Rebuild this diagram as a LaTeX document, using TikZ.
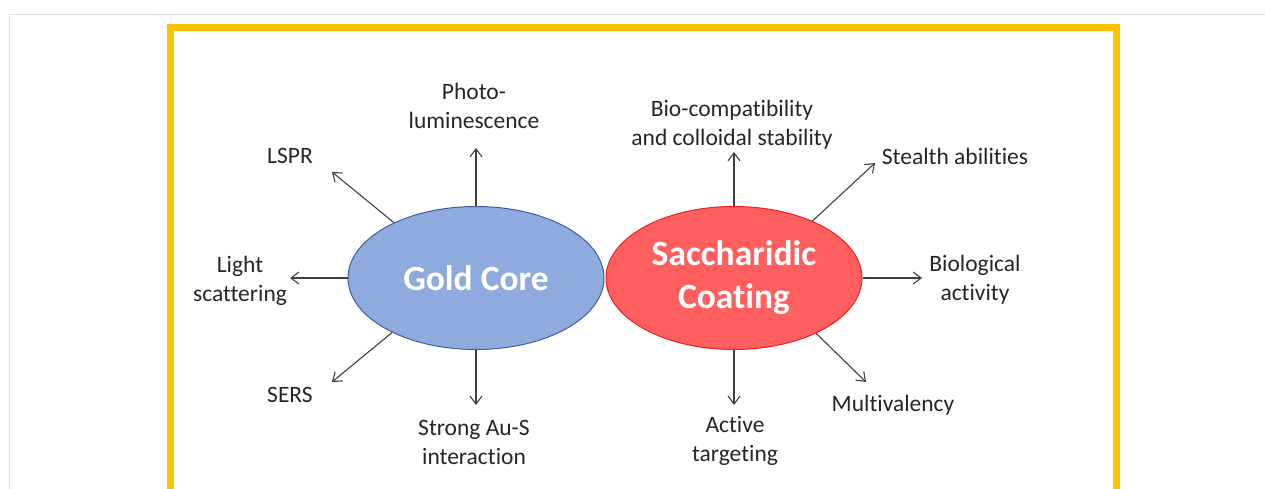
\documentclass[tikz,border=0pt]{standalone}
\usepackage{fontspec}
\setmainfont[Ligatures=NoCommon]{Carlito}
\usetikzlibrary{shapes.geometric,arrows.meta}

\definecolor{frameyellow}{HTML}{FFC000}
\definecolor{coreblue}{HTML}{8FAADC}
\definecolor{coreedge}{HTML}{3F5F9F}
\definecolor{coatred}{HTML}{FF5F5F}
\definecolor{coatedge}{HTML}{F01E1E}
\definecolor{labelgray}{HTML}{262626}

\tikzset{
  blob/.style={ellipse, draw, line width=1pt, inner sep=0pt, minimum width=256pt, minimum height=143pt,
    text=white, align=center, font=\fontsize{35.5}{43}\selectfont\bfseries},
  prop/.style={align=center, inner sep=0pt, text=labelgray, font=\fontsize{23.5}{29}\selectfont},
  arr/.style={->, line width=1.1pt, draw=black!75}
}

\begin{document}
\begin{tikzpicture}[x=1pt, y=-1pt, >={Straight Barb[length=8pt,width=12pt]}]
\useasboundingbox (0,0) rectangle (1265,489);
\clip (0,0) rectangle (1265,489);

% frames
\draw[gray!25, line width=1.2pt] (9.5,14.5) rectangle (1300,600);
\draw[frameyellow, line width=7pt] (170.5,27.5) rectangle (1116.5,600);

% the two halves of the particle
\node[blob, fill=coreblue, draw=coreedge] (gold) at (476,278) {Gold Core};
\node[blob, fill=coatred, draw=coatedge] (sacch) at (734,278) {Saccharidic\\Coating};

% gold core properties
\node[prop] (photo) at (474,106) {Photo-\\luminescence};
\node[prop] (lspr) at (290,156) {LSPR};
\node[prop] (light) at (240,281) {Light\\scattering};
\node[prop] (sers) at (290,395) {SERS};
\node[prop] (ausbond) at (474,442) {Strong Au-S\\interaction};

\coordinate (phototip) at (476,148);
\coordinate (lsprtip) at (332,172);
\coordinate (lighttip) at (290,278);
\coordinate (serstip) at (332,382);
\coordinate (ausbondtip) at (476,405);

\draw[arr] (gold.north) -- (phototip);
\draw[arr] (gold.146) -- (lsprtip);
\draw[arr] (gold.west) -- (lighttip);
\draw[arr] (gold.213) -- (serstip);
\draw[arr] (gold.south) -- (ausbondtip);

% coating properties
\node[prop] (biocomp) at (732,125) {Bio-compatibility\\and colloidal stability};
\node[prop] (stealth) at (955,156) {Stealth abilities};
\node[prop] (bioact) at (975,280) {Biological\\activity};
\node[prop] (multi) at (893,405) {Multivalency};
\node[prop] (target) at (735,441) {Active\\targeting};

\coordinate (biocomptip) at (734,152);
\coordinate (stealthtip) at (875,163);
\coordinate (bioacttip) at (922,278);
\coordinate (multitip) at (866,382);
\coordinate (targettip) at (734,405);

\draw[arr] (sacch.north) -- (biocomptip);
\draw[arr] (sacch.36) -- (stealthtip);
\draw[arr] (sacch.east) -- (bioacttip);
\draw[arr] (sacch.326) -- (multitip);
\draw[arr] (sacch.south) -- (targettip);
\end{tikzpicture}
\end{document}
